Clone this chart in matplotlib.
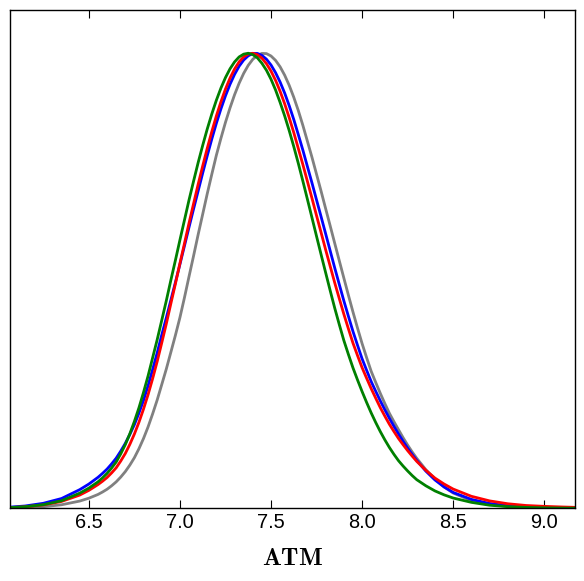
import matplotlib
matplotlib.use("Agg")
import matplotlib.pyplot as plt

plt.rcParams["font.family"] = ["Liberation Sans", "DejaVu Sans"]
plt.rcParams["mathtext.fontset"] = "cm"

# ATM grid and peak-normalised curve heights
ATM = [6.05, 6.15, 6.25, 6.35, 6.45, 6.50,
       6.55, 6.575, 6.60, 6.625, 6.65, 6.675, 6.70, 6.725, 6.75, 6.775,
       6.80, 6.825, 6.85, 6.875, 6.90, 6.925, 6.95, 6.975, 7.00, 7.025,
       7.05, 7.075, 7.10, 7.125, 7.15, 7.175, 7.20, 7.225, 7.25, 7.275,
       7.30, 7.325, 7.35, 7.375, 7.40, 7.425, 7.45, 7.475, 7.50, 7.525,
       7.55, 7.575, 7.60, 7.625, 7.65, 7.675, 7.70, 7.725, 7.75, 7.775,
       7.80, 7.825, 7.85, 7.875, 7.90, 7.925, 7.95, 7.975, 8.00, 8.025,
       8.05, 8.075, 8.10, 8.125, 8.15, 8.175, 8.20, 8.225, 8.25, 8.275, 8.30,
       8.35, 8.40, 8.45, 8.50, 8.60, 8.70, 8.80, 8.90, 9.00, 9.10, 9.20]

GRAY = [0.0008, 0.0018, 0.0039, 0.0082, 0.0163, 0.0226,
        0.0308, 0.0362, 0.0423, 0.0499, 0.0585, 0.0690, 0.0810, 0.0953, 0.1116, 0.1313,
        0.1537, 0.1791, 0.2077, 0.2382, 0.2720, 0.3061, 0.3430, 0.3802, 0.4195, 0.4635,
        0.5097, 0.5551, 0.6017, 0.6465, 0.6915, 0.7342, 0.7759, 0.8131, 0.8482, 0.8800,
        0.9089, 0.9342, 0.9558, 0.9734, 0.9867, 0.9954, 0.9996, 0.9992, 0.9940, 0.9843,
        0.9702, 0.9518, 0.9294, 0.9033, 0.8740, 0.8415, 0.8065, 0.7713, 0.7342, 0.6970,
        0.6586, 0.6207, 0.5823, 0.5441, 0.5061, 0.4685, 0.4317, 0.3964, 0.3624, 0.3313,
        0.3014, 0.2768, 0.2530, 0.2305, 0.2091, 0.1907, 0.1731, 0.1557, 0.1394, 0.1243, 0.1103,
        0.0853, 0.0650, 0.0474, 0.0340, 0.0172, 0.0090, 0.0048, 0.0028, 0.0016, 0.0009, 0.0005]

BLUE = [0.0026, 0.0055, 0.0114, 0.0219, 0.0414, 0.0537,
        0.0684, 0.0771, 0.0866, 0.0980, 0.1105, 0.1260, 0.1430, 0.1627, 0.1843, 0.2097,
        0.2374, 0.2698, 0.3051, 0.3417, 0.3810, 0.4185, 0.4575, 0.4965, 0.5364, 0.5771,
        0.6180, 0.6581, 0.6975, 0.7369, 0.7749, 0.8116, 0.8461, 0.8777, 0.9064, 0.9318,
        0.9536, 0.9715, 0.9851, 0.9944, 0.9993, 0.9996, 0.9954, 0.9869, 0.9742, 0.9573,
        0.9367, 0.9125, 0.8848, 0.8544, 0.8212, 0.7871, 0.7510, 0.7151, 0.6778, 0.6410,
        0.6035, 0.5659, 0.5283, 0.4920, 0.4561, 0.4222, 0.3890, 0.3586, 0.3290, 0.3036,
        0.2789, 0.2574, 0.2365, 0.2169, 0.1981, 0.1804, 0.1635, 0.1476, 0.1327, 0.1187, 0.1057,
        0.0821, 0.0627, 0.0474, 0.0353, 0.0200, 0.0110, 0.0060, 0.0032, 0.0017, 0.0009, 0.0005]

RED = [0.0016, 0.0037, 0.0079, 0.0155, 0.0295, 0.0398,
       0.0525, 0.0599, 0.0681, 0.0782, 0.0894, 0.1042, 0.1208, 0.1409, 0.1636, 0.1894,
       0.2183, 0.2500, 0.2851, 0.3227, 0.3636, 0.4053, 0.4498, 0.4933, 0.5385, 0.5824,
       0.6270, 0.6697, 0.7121, 0.7524, 0.7913, 0.8279, 0.8622, 0.8933, 0.9213, 0.9454,
       0.9654, 0.9811, 0.9921, 0.9984, 0.9999, 0.9967, 0.9891, 0.9770, 0.9608, 0.9405,
       0.9164, 0.8890, 0.8584, 0.8257, 0.7907, 0.7554, 0.7184, 0.6814, 0.6434, 0.6061,
       0.5684, 0.5320, 0.4956, 0.4610, 0.4268, 0.3947, 0.3633, 0.3360, 0.3094, 0.2861,
       0.2634, 0.2422, 0.2216, 0.2029, 0.1850, 0.1691, 0.1538, 0.1402, 0.1272, 0.1151, 0.1036,
       0.0839, 0.0668, 0.0538, 0.0427, 0.0268, 0.0167, 0.0104, 0.0066, 0.0047, 0.0033, 0.0022]

GREEN = [0.0017, 0.0039, 0.0084, 0.0170, 0.0337, 0.0448,
         0.0585, 0.0673, 0.0771, 0.0890, 0.1022, 0.1200, 0.1403, 0.1642, 0.1913, 0.2213,
         0.2549, 0.2911, 0.3309, 0.3706, 0.4131, 0.4560, 0.5011, 0.5449, 0.5898, 0.6337,
         0.6778, 0.7192, 0.7597, 0.7976, 0.8336, 0.8666, 0.8967, 0.9234, 0.9465, 0.9658,
         0.9810, 0.9919, 0.9980, 1.0000, 0.9970, 0.9900, 0.9780, 0.9626, 0.9430, 0.9193,
         0.8920, 0.8624, 0.8300, 0.7950, 0.7580, 0.7191, 0.6790, 0.6387, 0.5980, 0.5578,
         0.5180, 0.4785, 0.4400, 0.4039, 0.3690, 0.3384, 0.3090, 0.2824, 0.2570, 0.2329,
         0.2100, 0.1888, 0.1690, 0.1508, 0.1340, 0.1189, 0.1050, 0.0933, 0.0825, 0.0724, 0.0633,
         0.0499, 0.0386, 0.0300, 0.0230, 0.0135, 0.0072, 0.0040, 0.0024, 0.0014, 0.0009, 0.0006]

TICKS = [6.5, 7.0, 7.5, 8.0, 8.5, 9.0]

fig = plt.figure(figsize=(5.84, 5.81), dpi=100)
ax = fig.add_axes([0.0171, 0.1248, 0.9675, 0.858])

for ys, c in [(GRAY, "gray"), (BLUE, "blue"), (RED, "red"), (GREEN, "green")]:
    ax.plot(ATM, ys, color=c, lw=2.0)

ax.set_xlim(6.067, 9.169)
ax.set_ylim(0, 1.095)
ax.set_yticks([])
ax.set_xticks(TICKS)
ax.set_xticklabels([f"{t:.1f}" for t in TICKS], fontsize=14.4)
ax.tick_params(axis="x", direction="in", top=True, length=6, width=0.8, pad=3)
for s in ax.spines.values():
    s.set_linewidth(1.0)

ax.set_xlabel(r"$\mathbf{ATM}$", fontsize=18, labelpad=10)

fig.savefig("out.png", dpi=100)
